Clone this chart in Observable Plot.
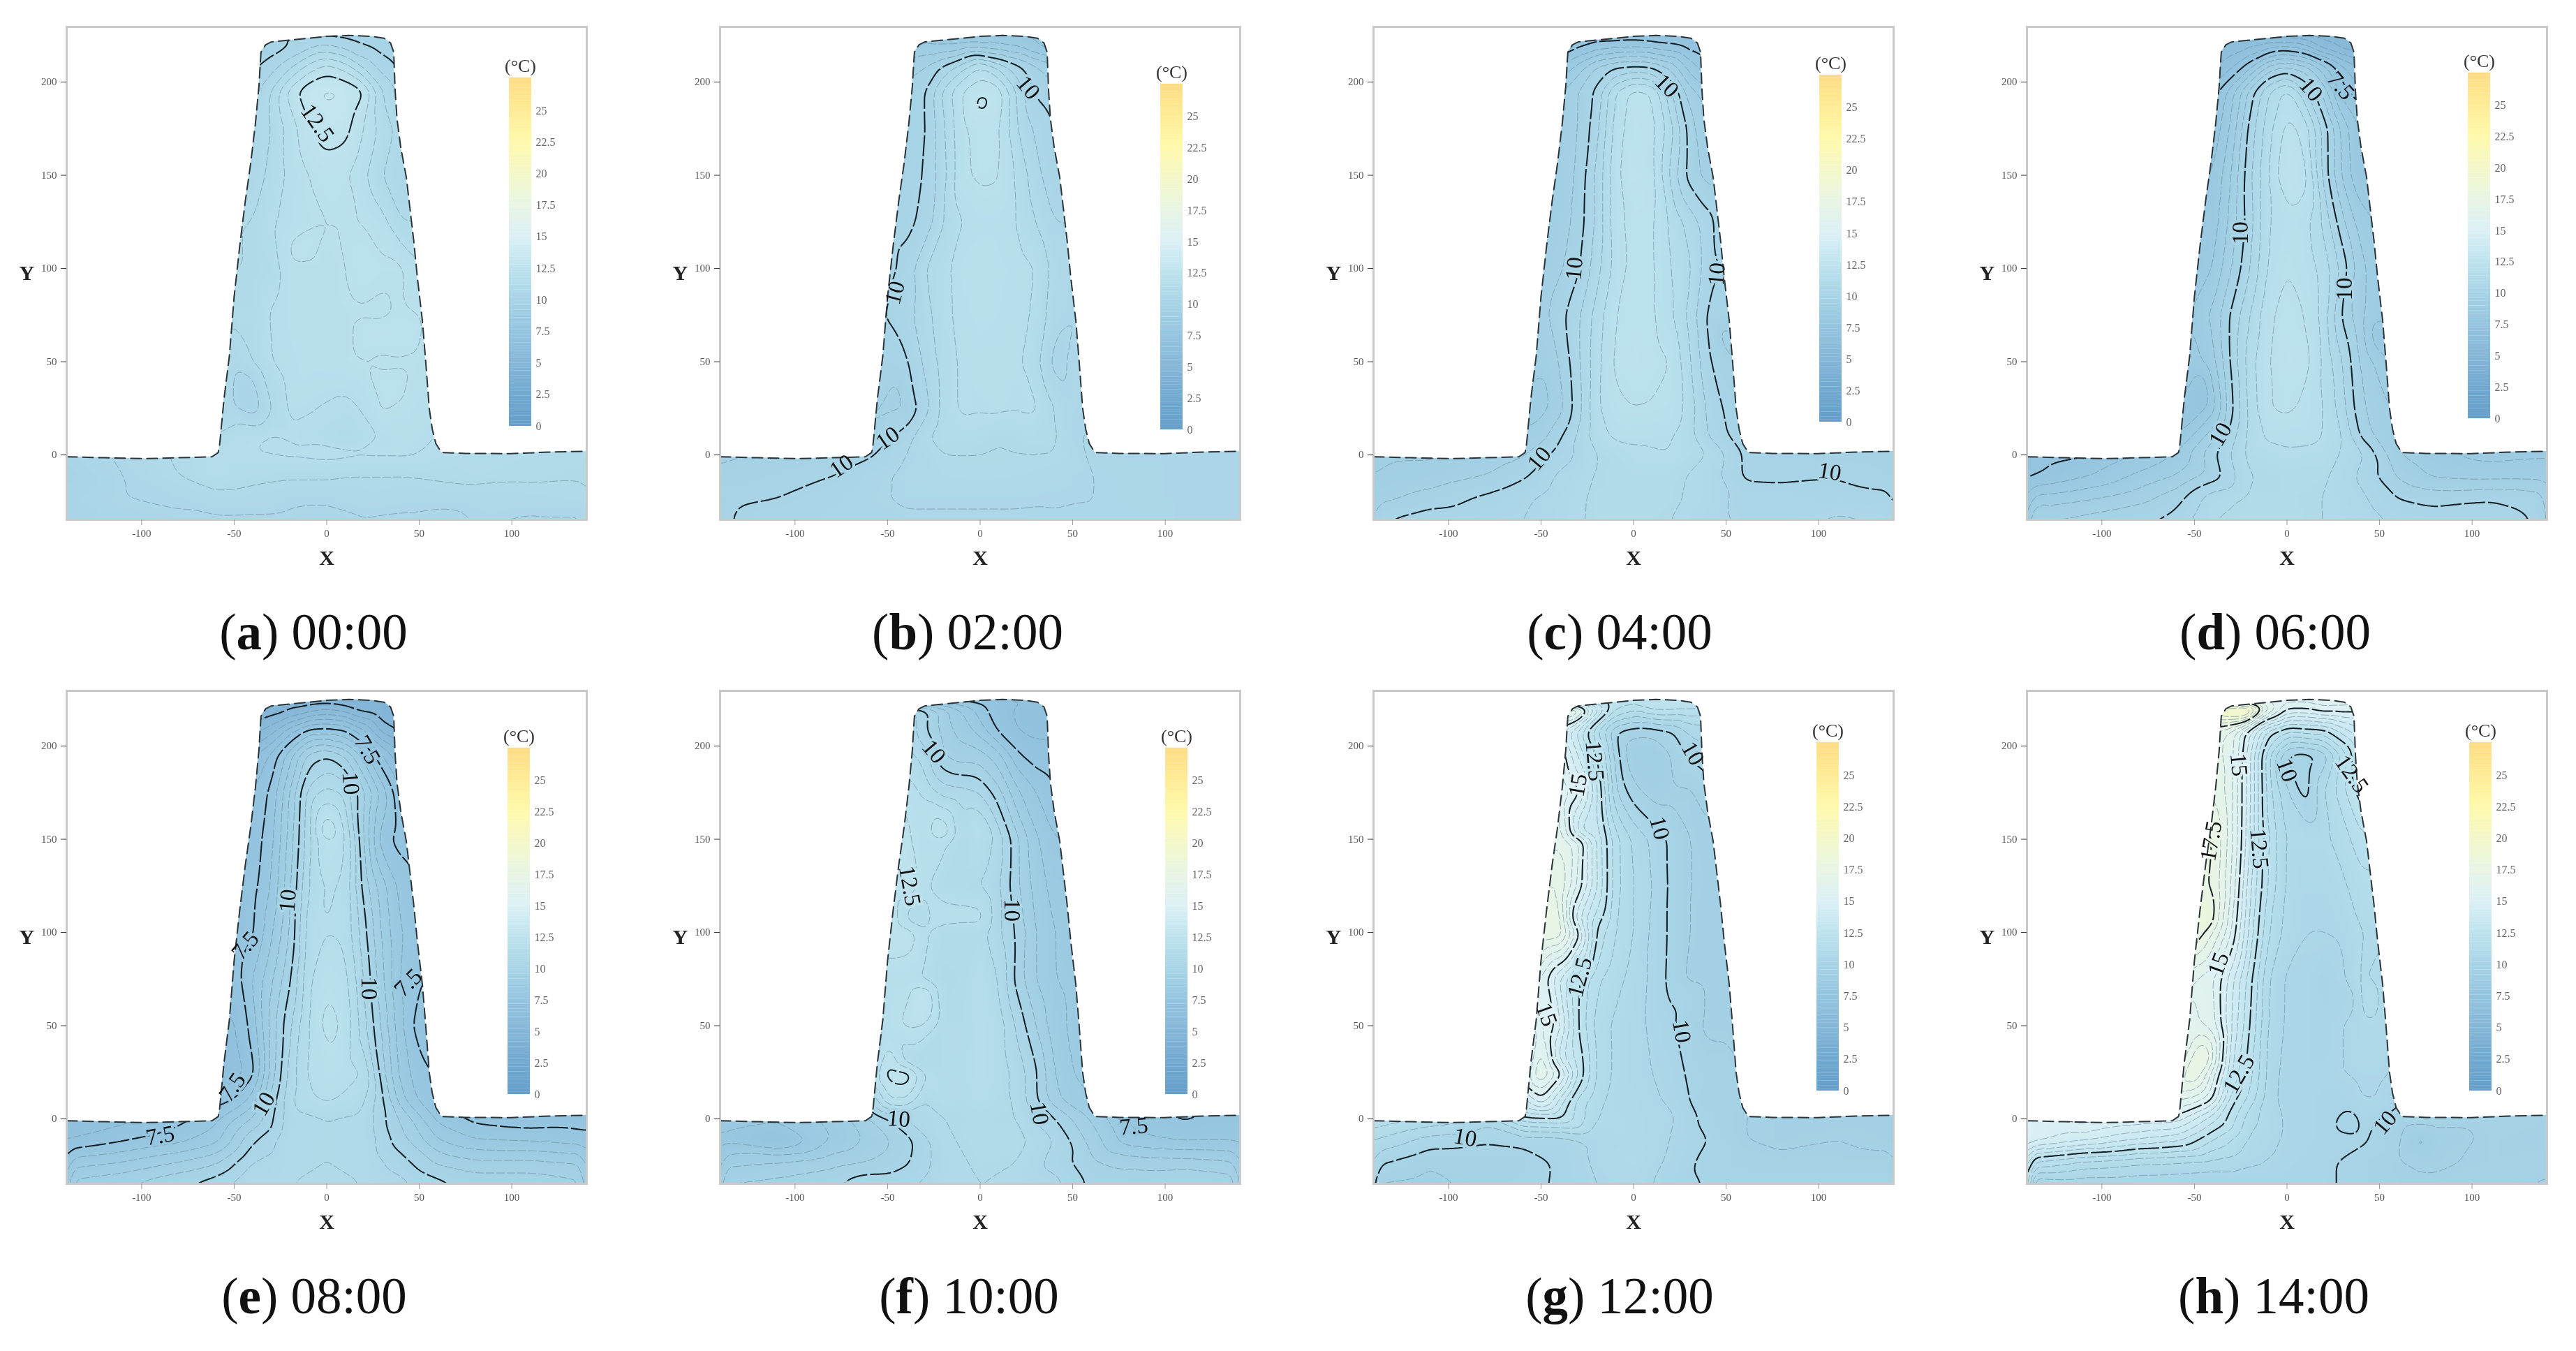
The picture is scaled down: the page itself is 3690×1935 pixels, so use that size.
<!DOCTYPE html>
<html><head><meta charset="utf-8">
<script src="https://cdn.jsdelivr.net/npm/d3@7"></script>
<script src="https://cdn.jsdelivr.net/npm/@observablehq/plot@0.6"></script>
<style>
html,body{margin:0;background:#fff}
#page{position:relative;width:3690px;height:1935px;overflow:hidden}
.panel,.legend{position:absolute;filter:blur(.7px)}
.cap{position:absolute;font:73px "Liberation Serif",serif;color:#111;transform:translate(-50%,-50%);white-space:pre}
</style></head><body><div id="page"></div>
<script>
const towerX=[-50,-40,-30,-20,-10,0,10,20,30,40,50];
const towerY=[222,208,195,175,150,125,100,75,50,25,10];
const streetX=[-140,-110,-80,-60,-40,-20,0,20,40,60,80,110,140];
const streetY=[1,-11,-23,-35];
const xDomain=[-140.5,140.5], yDomain=[-34.8,229.6];
const xTicks=[-100,-50,0,50,100], yTicks=[0,50,100,150,200];
const footprintX=[-140.5,-120,-98,-80,-62,-58.6,-58,-55.5,-52.6,-50,-47,-44,-41,-38.5,-36.6,-35.9,-35.5,-33,-30,-20,-10,0,12,24,31,34.5,36.2,37,38,40,43,47,49,51.7,53.5,55.4,57,59,62,75,99.5,120,140.5];
const footprintY=[-1,-1.5,-2,-1.5,-1,1.3,4,30,53,85,112,136,157,178,198,210,216,220,221.5,222.5,223.5,224.5,225,224.5,223.5,221,216,195,180,165,149,115,95,72,50,25,14,6,1.3,.8,.7,1.5,2];
const colorDomain=[0,2.5,5,7.5,10,12.5,15,17.5,20,22.5,25,27.6];
const colorRange=["#659fca","#72a9d0","#86b7d8","#95c5df","#a8d4e6","#bee3ee","#dcf0f5","#e9f5e4","#f4f8c8","#fff9ab","#ffeb95","#fddc83"];
const thinLevels=[4.5,5.5,6,6.5,7,8,8.5,9,9.5,10.5,11,11.5,12,13,13.5,14,14.5,15.5,16,16.5,17,18,18.5,19,19.5];
const blackLevels=[5,7.5,10,12.5,15,17.5,20];
const legendTicks=[0,2.5,5,7.5,10,12.5,15,17.5,20,22.5,25];
const legendBands=d3.range(0,27.6,.2);

const tower00=[[9.6,9.6,9.6,9.8,10,10.2,10,9.8,9.6,9.5,9.5],[9.9,9.9,10.3,10.9,11.7,12.2,11.8,10.9,10.3,9.9,9.9],[10.3,10.3,11,12.2,12.9,13.1,13,12.6,11,10.3,10.3],[10.5,10.5,11,11.7,12.4,12.8,12.7,12,11.3,10.8,10.8],[10.6,10.6,11.2,11.6,12,12.2,12.1,11.6,11,10.6,10.6],[11,11,11.4,11.7,11.9,12,12,12,11.7,11,11],[11,11,11.2,11.8,11.8,11.8,12,12.2,12.1,12.1,11.6],[11.1,11.1,11.55,11.8,11.85,11.85,11.9,11.95,11.9,12.1,12],[10.6,11,11.5,11.7,11.85,11.85,11.9,12,11.9,11.95,11.9],[10.6,10.2,11,11.6,11.55,11.45,11.35,11.55,12.1,11.85,11.7],[11.3,11.4,11.55,11.45,11.35,11.25,11.1,11.3,11.55,11.6,11.6]];
const street00=[[10.2,10.6,11.1,11.4,11.5,11.6,11.7,11.6,11.6,11.4,11.3,11.2,11.1],[10,10.5,11,11.4,11.2,11.1,11.1,11,11,11.1,11.2,11.1,11.05],[10.2,10.5,10.6,10.8,10.75,10.6,10.6,10.75,10.7,10.7,10.7,10.8,10.9],[10.2,10.3,10.4,10.4,10.4,10.4,10.3,10.45,10.4,10.3,10.5,10.4,10.4]];
const bumps00=[[-16,108,12.25],[33,32,12.25],[25,65,12.25],[48,65,12.2],[-45,32,9.85]];
const tower02=[[8.6,8.6,8.5,8.3,8.2,8.2,8.2,8.1,7.6,7.3,7.3],[9.2,9.2,9.5,10.1,10.8,11.6,10.9,10.2,9.6,9.2,9.2],[9.7,9.7,9.9,11.1,12,12.4,12.3,10.9,9.9,9.7,9.7],[9.7,9.7,9.9,10.9,11.9,12.2,12.1,11,10.4,10,10],[9.8,9.8,10,10.8,11.9,12.1,12.05,11.4,10.7,10.1,10],[9.9,9.9,10.1,11,11.5,11.7,11.7,11.5,11,10.5,10.5],[9.9,10.1,11,11.3,11.8,11.85,11.8,11.7,11.5,10.8,10.6],[10,10.3,10.8,11.3,11.7,11.8,11.75,11.7,11.4,10.7,10.5],[9.8,9.9,10.6,11.2,11.6,11.7,11.7,11.6,11.2,10.3,10.6],[9.4,9.5,10.3,11.2,11.6,11.55,11.6,11.55,11.6,11,10.6],[9.9,10.2,10.9,11.3,11.3,11.2,11,11.1,11.2,11.1,10.6]];
const street02=[[9.4,9.5,9.6,9.9,10.5,11,11,11,11,10.4,10.4,10.4,10.4],[9.6,9.8,10,10.3,10.65,10.85,10.9,10.85,10.7,10.5,10.45,10.4,10.4],[9.9,10,10.2,10.4,10.6,10.6,10.6,10.6,10.55,10.5,10.45,10.4,10.4],[9.95,10.2,10.3,10.35,10.4,10.4,10.4,10.4,10.45,10.5,10.5,10.4,10.4]];
const bumps02=[[0,190,12.7],[-46,32,9.3]];
const tower04=[[6.9,6.9,7.1,7.3,7.3,7.4,7.3,7.2,7,6.9,6.9],[7.9,8,8.7,9.6,10,10.1,10,9.4,8.3,7.6,7.6],[8.9,8.9,9.5,10.1,11.5,12.2,12,10.6,9.2,8.7,8.7],[8.9,9,9.5,10.3,11.7,12.3,12.2,11.2,9.8,8.9,8.9],[9,9.1,9.6,10.6,11.8,12.5,12.2,10.9,9.8,9.3,9.3],[9,9.2,9.7,10.6,11.8,12.2,12.1,11.4,10.8,10.2,9.6],[9.1,9.4,9.9,10.8,11.7,12.2,12.1,11.5,11.1,10.2,9.9],[9.3,9.8,10.4,11.2,12,12.2,12.1,11.6,10.9,9.9,9.8],[9.1,9.5,10.4,11.3,12.1,12.3,12.2,12,11.1,10.1,9.6],[8.8,9.3,10.3,11.4,11.9,12,11.95,11.9,11.3,10.4,9.9],[9.3,9.9,10.6,11.3,11.6,11.6,11.6,11.55,11.2,10.5,10]];
const street04=[[8.9,8.9,9.1,9.4,10.2,11,11.4,11.5,11,9.9,9.8,9.7,9.6],[9,9.2,9.5,9.9,10.6,11.05,11.2,11.15,10.8,9.9,9.85,9.95,9.75],[9.3,9.7,10.1,10.4,10.75,11.1,11.15,11.1,10.8,10.3,10.3,10.2,10.1],[10,10.3,10.4,10.5,10.8,11.1,11.2,11,10.7,10.4,10.4,10.6,10.5]];
const bumps04=[[-50,35,8.8],[50,65,9.3]];
const tower06=[[6.2,6.2,6.1,6.1,6.2,6.3,6,5,4.7,4.6,4.6],[6.4,6.4,6.9,7.9,9.2,9.6,9.2,8.2,7.1,6.4,6.4],[7,7.2,8.3,9.7,11,11.7,10.6,9.3,7.7,7.1,7.1],[7.5,7.6,8.6,10.2,11.3,12.2,11.8,10.3,8.8,7.9,7.9],[7.9,8,9,10.4,11.5,12.5,12.2,10.3,8.9,8,8],[8,8.2,9.2,10.3,11.5,11.8,11.7,10.9,9.6,8.7,8.4],[8.1,8.5,9.5,10.5,11.6,12,11.8,11.3,10.3,9.1,8.7],[8.6,9.1,10.1,11,11.9,12.2,12,11.3,9.9,9.1,8.6],[8.3,8.8,10.1,11.3,12,12.3,12.2,11.4,10.5,9.4,8.8],[7.6,8.3,9.9,11.2,12,12.1,11.9,11.5,10.7,9.6,9.2],[8.6,9.3,10.3,11.2,11.6,11.7,11.7,11.5,11,9.9,9.3]];
const street06=[[7.2,7.4,8,8.5,9.9,11.2,11.4,11.3,10.6,9,8.6,8.3,8.4],[7.4,7.9,8.6,9,9.7,11,11.1,11.1,10.4,9.4,8.9,8.8,8.8],[8.6,8.9,9.3,9.8,10.8,11.1,11.1,11,10.6,10,9.8,9.95,9.7],[9.6,9.7,10,10.2,11,11.2,11.15,11,10.8,10.4,10.3,10.3,9.9]];
const bumps06=[[-48,33,7.2],[50,65,8]];
const tower08=[[4.6,4.6,4.5,4.6,4.7,5,4.8,4.4,4.3,4.3,4.3],[5.3,5.3,5.8,6.8,7.7,7.8,7.6,6.6,5.3,4.9,4.9],[6.4,6.4,7.1,8.3,9.7,10,9.5,8.3,7,6,6],[6.9,7,7.6,9,10.7,11.2,10.9,9.6,8.3,7,7],[7,7.2,7.8,9.2,10.8,12,11.6,9.5,7.7,7.3,7.2],[7.2,7.3,8,9.4,11,11.6,11.4,9.8,8.7,7.8,7.4],[7.1,7.4,8.4,9.5,11.3,11.5,11.4,10.2,8.9,8,7.7],[7.2,8,8.9,9.9,11.4,11.9,11.7,10.5,9.1,7.9,7.5],[6.9,7.7,9.2,10.4,11.5,12.2,11.9,10.7,9.4,8.1,7.2],[6.7,7.3,9.2,10.7,11.6,11.8,11.7,11.5,9.7,8.3,7.7],[7.5,8.2,9.7,10.9,11.4,11.6,11.4,11.1,10.1,8.7,7.9]];
const street08=[[6.4,6.8,7.3,7.8,9,10.8,11,10.9,9.4,7.8,7.3,7.1,7.2],[7,7.4,7.8,8.3,9.9,10.9,11,10.9,9.7,8.5,8,7.9,7.7],[8.2,8.5,9,9.4,10.5,10.9,11,10.9,10.2,9.4,9.1,9.1,8.9],[9.2,9.5,10,10.3,11,11,11.1,11,10.7,10.2,9.9,9.9,9.6]];
const bumps08=[[0,153,12.6]];
const tower10=[[10.6,10.6,10.2,9.3,8.4,7.6,7.2,6.9,6.7,6.7,6.7],[11,11,10.1,9.3,8.8,8.3,7.4,7,6.9,6.9,6.9],[11.2,11.2,10.8,9.5,9.2,9.2,8.7,7.6,7.2,7.1,7.1],[11.8,11.8,11.4,10.8,10.7,10.5,9.7,8.6,8,7.6,7.6],[12.6,12.2,11.5,11.7,11.1,11.4,10.8,9.6,8.6,8,8],[12.5,12.6,11.6,11.2,11.1,11,10.6,9.6,8.8,8.3,8.2],[12.5,12.4,11.6,11.2,11.1,11.2,10.6,9.9,9,8.5,8.3],[11.6,11.6,11.4,11,11.1,11.5,11,9.8,9,8.5,8.4],[11.7,12.1,12,11.2,11.2,11.5,11.3,10.4,9.5,8.7,8.4],[12.8,13,11.5,11.2,11.3,11.5,11.3,10.8,10.1,9,8.5],[12,12,11,11.3,11.2,11.4,11.2,10.9,10.1,9.2,8.7]];
const street10=[[8.5,8.2,8.6,9.5,10.6,11,11.1,11,10,8.9,7.9,7.4,7.6],[7.8,7.3,8.5,9.1,9.8,10.9,11.2,11.2,10.5,9.3,8.2,7.9,7.9],[8.8,9,9.3,9.5,9.9,10.8,11.1,11,10.3,9.6,9.3,9.2,9],[9.6,9.7,9.95,10.4,10.4,10.9,11,10.9,10.7,9.9,9.9,10.1,9.8]];
const bumps10=[[-22,152,12.7],[0,152,11.7],[-22,108,11.8],[0,108,11.7],[-31,64,12.8],[-34,108,11],[-36,30,11]];
const tower12=[[16.8,17.6,17.6,14.5,12.5,12,12.5,12.5,12.3,12,12],[14.5,14.5,13.3,11.5,10,9.7,9.7,9.9,10.6,10.8,10.8],[15.5,15.5,14,12.5,10.3,9,8.9,9.5,10.1,10.3,10.3],[16,16,15.2,13.2,10.6,9.7,9.3,9.4,9.4,9.8,9.8],[16.2,16.4,15.7,13.5,11.7,10.9,10.4,9.9,9.5,9.3,9.3],[17,17,15.4,13.6,11.7,11,10.5,9.9,9.5,9.4,9.4],[17.5,17.5,15.3,12.4,11.5,11,10.4,9.9,9.5,9.3,9.3],[15.5,14,12.6,11.6,11.2,10.8,10.4,9.85,9.4,9.4,9.4],[15.8,14.7,12.5,11.3,10.9,10.7,10.4,10.1,9.7,9.4,9.4],[16.8,15.4,13,11.4,10.9,10.7,10.5,10.3,9.9,9.7,9.7],[15,13.4,11.8,11.2,10.8,10.8,10.6,10.4,10,9.6,9.7]];
const street12=[[12,11.5,10.8,12.5,12.7,11,10.8,10.6,9.8,9.5,9.4,9.3,9.3],[11,10.3,10.1,10.2,10.2,10.6,10.8,10.5,10,9.5,9.4,9.5,9.4],[10.1,9.6,9.6,9.7,10.1,10.6,10.9,10.4,9.8,9.7,9.6,9.6,9.6],[9.4,9.3,9.7,9.8,10.1,10.5,10.7,10.3,9.95,9.9,9.9,10,9.9]];
const bumps12=[[30,65,9.9],[-38,32,13.5],[-32,108,14.5],[-26,153,13]];
const tower14=[[18,19.5,21,21.5,17.5,15.5,15.5,16,15.8,15.5,15.5],[17,17,16.3,14.5,12.7,12,12.2,12.3,13.2,14,14],[17,16.7,16.3,14.1,11.6,9.9,9.7,10.1,11.6,13.3,13.3],[17,17,16.2,14.1,11.7,10.6,9.7,11,11.8,12.8,12.8],[17.6,17.6,16.2,14,12,10.9,10.9,10.9,11.2,11.9,11.9],[17.6,17.5,16,13.6,11.9,10.9,10.6,10.6,10.9,11.3,11.3],[18,17,15.5,13.3,11.5,10.8,10.5,10.5,10.6,11,11.1],[16,15.6,14.2,12.7,11,10.4,10.3,10,10.4,11.1,10.8],[16.1,15.8,14,12.5,10.9,10.4,10.3,10.1,10.5,10.8,10.8],[17.7,15.8,13.5,12.2,10.8,10.3,10.3,10.3,10.5,10.6,10.6],[15.8,15,12.7,11.8,10.7,10.3,10.3,10.2,10.2,10.5,10.5]];
const street14=[[15,15.3,15,14.9,13.3,11.2,10.4,10.2,10.2,9.8,9.8,9.7,9.6],[14.9,14.2,13.5,13.2,12,10.9,10.4,10.2,10.1,9.6,9.2,9.6,9.5],[12,11.4,11.1,11,10.9,10.6,10.3,10.1,9.8,9.55,9.4,9.6,9.7],[9.9,10.1,10.1,10.1,10,10.1,10.2,10.1,9.8,9.6,9.6,9.7,9.4]];
const bumps14=[[36,-1,9.7],[72,-12,8.8],[45,65,11.6],[35,65,10.3],[-45,32,17.9],[-43,108,18.2]];

const labels00=[[-5,178,"12.5",55]];
const labels02=[[26,197,"10",50],[-46,87,"10",-75],[-50,9,"10",-35],[-75,-6,"10",-35]];
const labels04=[[18,198,"10",45],[-32,100,"10",-85],[45,97,"10",-85],[-51,-2,"10",-50],[106,-9,"10",10]];
const labels06=[[29,198,"7.5",50],[13,196,"10",50],[-25,119,"10",-90],[31,89,"10",-90],[-36,11,"10",-60]];
const labels08=[[22,198,"7.5",60],[13,180,"10",85],[-21,117,"10",-85],[23,70,"10",90],[-44,93,"7.5",-50],[44,73,"7.5",-45],[-51,17,"7.5",-55],[-34,8,"10",-60],[-90,-9,"7.5",-10]];
const labels10=[[-25,197,"10",50],[-38,125,"12.5",80],[17,112,"10",90],[-44,0,"10",5],[32,3,"10",80],[83,-4,"7.5",-5]];
const labels12=[[32,196,"10",60],[14,156,"10",75],[-21,192,"12.5",85],[-30,179,"15",-80],[-29,76,"12.5",-75],[-47,56,"15",70],[26,47,"10",80],[-91,-10,"10",10]];
const labels14=[[-26,190,"15",85],[0,187,"10",70],[35,185,"12.5",55],[-41,149,"17.5",-80],[-15,145,"12.5",85],[-37,83,"15",-70],[-26,24,"12.5",-60],[53,-2,"10",-50]];

const panels=[
 {tag:"a",time:"00:00",left:95,top:38,tower:tower00,street:street00,bumps:bumps00,labels:labels00,bar:[729,111,610],cap:[449,906]},
 {tag:"b",time:"02:00",left:1031,top:38,tower:tower02,street:street02,bumps:bumps02,labels:labels02,bar:[1662,120,615],cap:[1386,906]},
 {tag:"c",time:"04:00",left:1967,top:38,tower:tower04,street:street04,bumps:bumps04,labels:labels04,bar:[2606,107,604],cap:[2320,906]},
 {tag:"d",time:"06:00",left:2903,top:38,tower:tower06,street:street06,bumps:bumps06,labels:labels06,bar:[3535,104,599],cap:[3259,906]},
 {tag:"e",time:"08:00",left:95,top:989,tower:tower08,street:street08,bumps:bumps08,labels:labels08,bar:[727,1071,1567],cap:[450,1857]},
 {tag:"f",time:"10:00",left:1031,top:989,tower:tower10,street:street10,bumps:bumps10,labels:labels10,bar:[1669,1071,1567],cap:[1388,1857]},
 {tag:"g",time:"12:00",left:1967,top:989,tower:tower12,street:street12,bumps:bumps12,labels:labels12,bar:[2602,1063,1562],cap:[2320,1857]},
 {tag:"h",time:"14:00",left:2903,top:989,tower:tower14,street:street14,bumps:bumps14,labels:labels14,bar:[3537,1063,1562],cap:[3257,1857]}
];
const color={type:"linear",domain:colorDomain,range:colorRange,clamp:true};
const serif='"Liberation Serif",serif';
const page=document.getElementById("page");
const ML=85,MR=6,MT=6,MB=85,FW=745,FH=706;
for(const p of panels){
  const pts=[];
  p.tower.forEach((r,i)=>r.forEach((t,j)=>pts.push({x:towerX[j],y:towerY[i],t})));
  p.street.forEach((r,i)=>r.forEach((t,j)=>pts.push({x:streetX[j],y:streetY[i],t})));
  p.bumps.forEach(([x,y,t])=>pts.push({x,y,t}));
  const boundary=footprintX.map((x,i)=>({x,y:footprintY[i]}));
  const lab=p.labels.map(([x,y,text,rotate])=>({x,y,text,rotate,level:+text}));
  const contourOpts={x:"x",y:"y",value:"t",interpolate:"barycentric",pixelSize:2,blur:3};
  const labelOpts={x:"x",y:"y",text:"text",rotate:"rotate",fontSize:33};
  const fig=Plot.plot({
    width:FW+ML+MR,height:FH+MT+MB,marginLeft:ML,marginRight:MR,marginTop:MT,marginBottom:MB,
    x:{domain:xDomain},y:{domain:yDomain},color,
    style:{background:"transparent",fontFamily:serif},
    marks:[
      Plot.raster(pts,{x:"x",y:"y",fill:"t",interpolate:"barycentric",pixelSize:2,blur:3}),
      Plot.contour(pts,{...contourOpts,thresholds:thinLevels,stroke:"#6f8f9c",strokeWidth:1,strokeOpacity:.7,fill:"none",strokeDasharray:"12 3"}),
      Plot.contour(pts,{...contourOpts,thresholds:blackLevels,stroke:"#101c22",strokeWidth:2,fill:"none",strokeDasharray:"30 4"}),
      Plot.text(lab,{...labelOpts,fill:"none",stroke:"level",strokeWidth:8}),
      Plot.areaY(boundary,{x:"x",y1:"y",y2:()=>yDomain[1],fill:"white"}),
      Plot.line(boundary,{x:"x",y:"y",stroke:"#2a3438",strokeWidth:2,strokeDasharray:"15 8"}),
      Plot.text(lab,{...labelOpts,fill:"#111"}),
      Plot.frame({stroke:"#c9c9c9",strokeWidth:3}),
      Plot.axisX({ticks:xTicks,tickSize:8,tickPadding:6,tickFormat:String,label:null,fontSize:15,color:"#555",stroke:"#999"}),
      Plot.axisY({ticks:yTicks,tickSize:8,tickPadding:6,tickFormat:String,label:null,fontSize:15,color:"#555",stroke:"#333"}),
      Plot.text(["X"],{frameAnchor:"bottom",dy:64,fontSize:30,fontWeight:700,fill:"#222"}),
      Plot.text(["Y"],{frameAnchor:"left",dx:-68,fontSize:30,fontWeight:700,fill:"#222"})
    ]
  });
  fig.setAttribute("class","panel");
  fig.style.left=(p.left-ML)+"px";fig.style.top=(p.top-MT)+"px";
  page.appendChild(fig);

  const [bl,bt,bb]=p.bar;
  const lg=Plot.plot({
    width:32+50,height:bb-bt+44,marginLeft:0,marginRight:50,marginTop:34,marginBottom:10,
    x:{domain:[0,1],axis:null},y:{domain:[0,27.6]},color,
    style:{background:"transparent",fontFamily:serif,overflow:"visible"},
    marks:[
      Plot.rect(legendBands,{x1:()=>0,x2:()=>1,y1:d=>d,y2:d=>d+.21,fill:d=>d}),
      Plot.axisY({anchor:"right",ticks:legendTicks,tickSize:0,tickPadding:6,tickFormat:String,label:null,fontSize:16,color:"#666"}),
      Plot.text(["(°C)"],{frameAnchor:"top",dy:-27,fontSize:26,fill:"#333"})
    ]
  });
  lg.setAttribute("class","legend");
  lg.style.left=bl+"px";lg.style.top=(bt-34)+"px";
  page.appendChild(lg);

  const cap=document.createElement("div");
  cap.className="cap";cap.style.left=p.cap[0]+"px";cap.style.top=p.cap[1]+"px";
  cap.innerHTML=`(<b>${p.tag}</b>) ${p.time}`;
  page.appendChild(cap);
}
</script></body></html>
